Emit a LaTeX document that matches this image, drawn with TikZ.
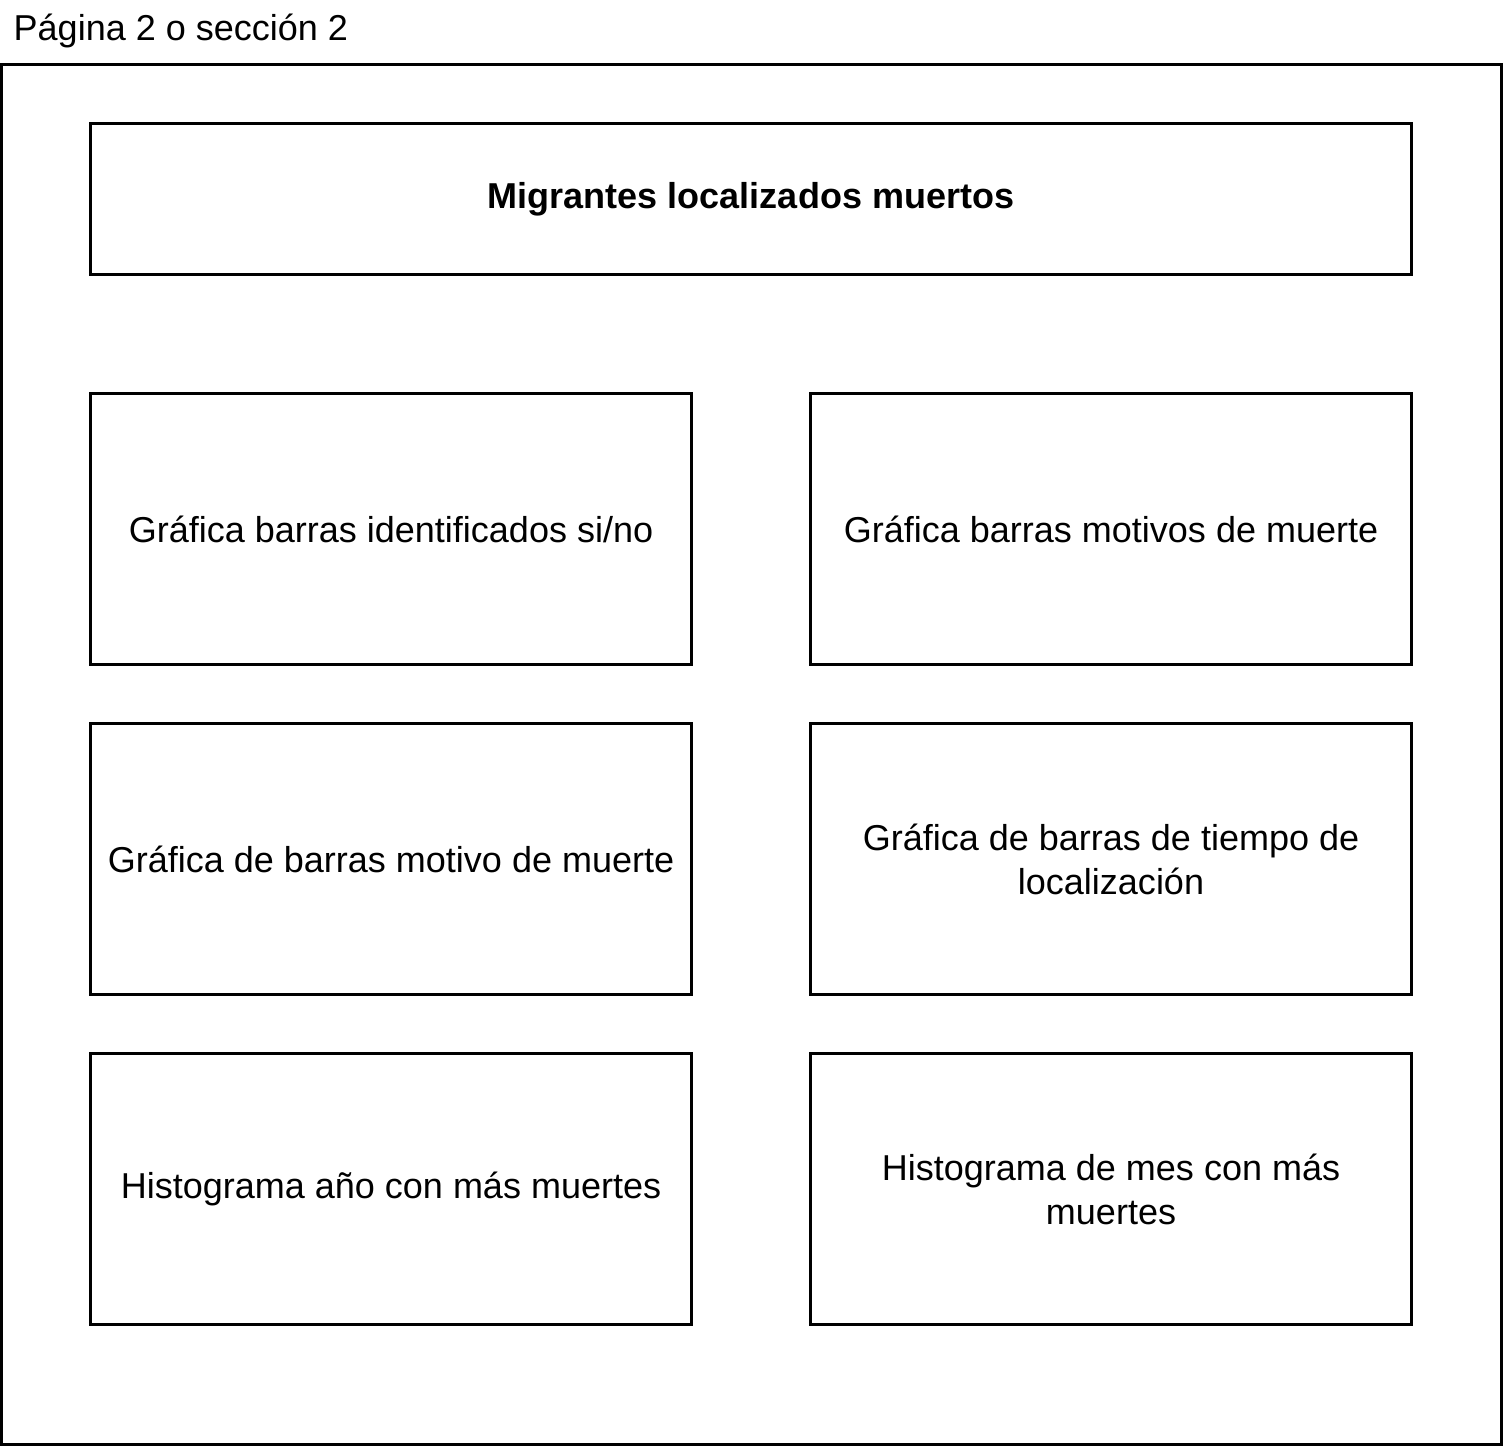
\documentclass[tikz,border=0pt]{standalone}
\usepackage{fontspec}
\setmainfont{Liberation Sans}
\usepackage{tikz}

\tikzset{
    panel/.style={draw, line width=0.03cm, inner sep=0pt, align=center,
        minimum width=6cm, minimum height=2.7cm,
        font=\fontsize{10.24pt}{12.5pt}\selectfont},
    titlepanel/.style={panel, minimum width=13.2cm, minimum height=1.5cm,
        font=\fontsize{10.24pt}{12.5pt}\selectfont\bfseries}
}

\begin{document}
\begin{tikzpicture}[x=0.01cm, y=-0.01cm]
\useasboundingbox (0,0) rectangle (1503,1446);
    \node (page) [anchor=west, inner sep=0pt, font=\fontsize{10.24pt}{12.5pt}\selectfont] at (13,31) {Página 2 o sección 2};
    \draw[line width=0.03cm] (1.5,64.5) rectangle (1501.5,1444.5);
    \node (title) [titlepanel] at (751,199) {Migrantes localizados muertos};
    \node (a) [panel] at (391,529) {Gráfica barras identificados si/no};
    \node (b) [panel] at (1111,529) {Gráfica barras motivos de muerte};
    \node (c) [panel] at (391,859) {Gráfica de barras motivo de muerte};
    \node (d) [panel] at (1111,859) {Gráfica de barras de tiempo de\\localización};
    \node (e) [panel] at (391,1189) {Histograma año con más muertes};
    \node (f) [panel] at (1111,1189) {Histograma de mes con más\\muertes};
\end{tikzpicture}
\end{document}
